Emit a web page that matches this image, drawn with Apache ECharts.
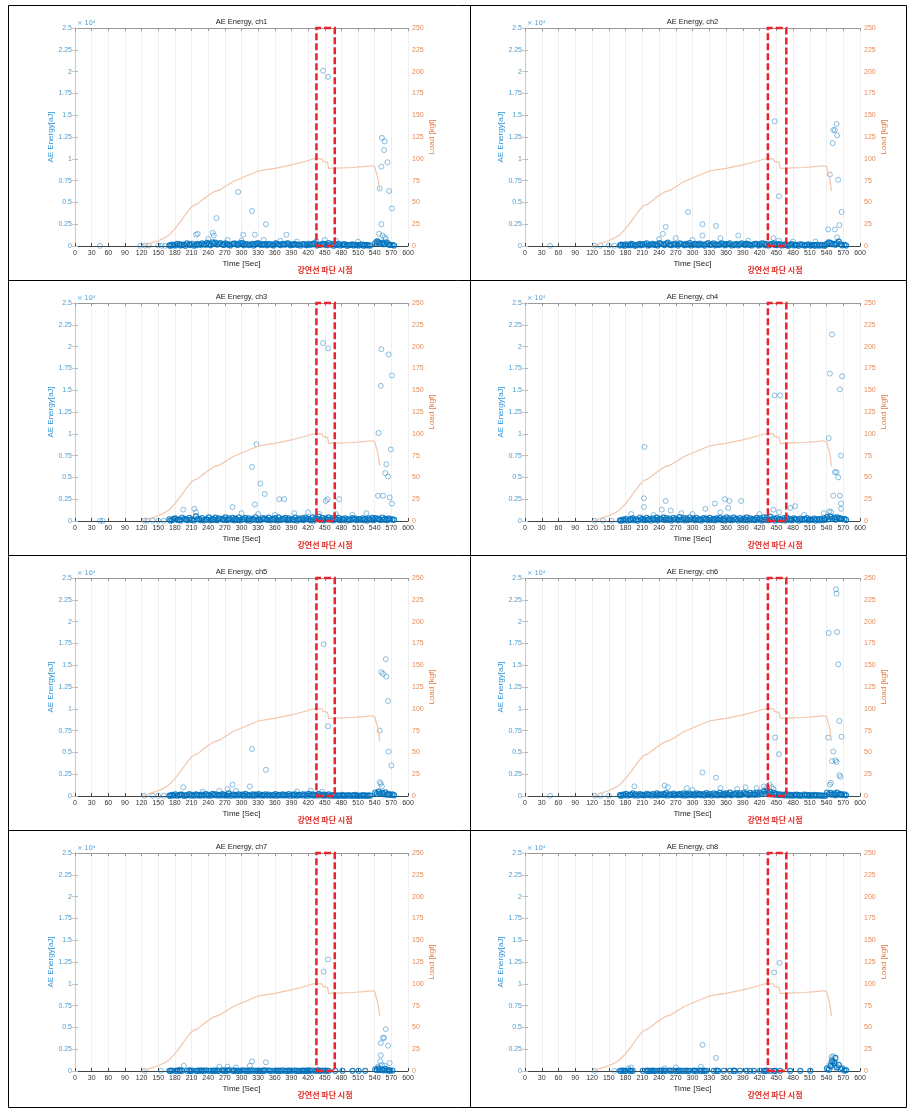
<!DOCTYPE html>
<html><head><meta charset="utf-8">
<script src="https://cdn.jsdelivr.net/npm/echarts@6/dist/echarts.min.js"></script>
<style>html,body{margin:0;padding:0;background:#fff}#c{width:919px;height:1116px}</style>
</head><body><div id="c"></div>
<script>
// ---------- DATA ----------
const channels = ['ch1','ch2','ch3','ch4','ch5','ch6','ch7','ch8'];
const energyTickLabels = ['0','0.25','0.5','0.75','1','1.25','1.5','1.75','2','2.25','2.5'];
const breakWindow = [435, 468]; // red dashed box (sec)

// load curve (shared by all channels)
const loadT = [120,125,135,150,160,170,180,190,200,210,215,220,230,240,250,260,270,285,300,315,330,345,360,375,390,405,420,430,440,445,447,450,455,457,460,480,500,520,535,540,543,546,549];
const loadV = [0,0.5,3,6,9,13,20,28,37,45,47,48,53,58,62,64,68,74,78,82,86,87.5,89,91,93,95.5,98,100,100,100,97,96,96,89,89,89.5,90,91,92,91,89,77,63];

// hit times of the dense near-zero band (two rows)
const bandT_A = [170,175,181,188,193,199,206,211,218,223, 229,236,241,248,253,259,266,271,277,284, 289,295,302,307,313,320,325,331,338,343, 349,356,361,367,374,379,385,392,397,403, 410,415,421,428,433,439,446,451,457,464, 469,475,482,487,493,500,505,511,518,523, 529,536,541,547,554,559,565,572];
const bandT_B = [172,178,184,190,196,202,208,214,220,226, 232,238,244,250,256,262,268,274,280,286, 292,298,304,310,316,322,328,334,340,346, 352,358,364,370,376,382,388,394,400,406, 412,418,424,430,436,442,448,454,460,466, 472,478,484,490,496,502,508,514,520,526, 532,538,544,550,556,562,568,575];

// band energies [aJ]
const ch1_A = [80,150,60,220,120,40,180,260,90,200, 310,150,240,420,380,260,180,300,140,230, 270,160,320,200,110,250,180,290,140,210, 260,130,300,190,240,160,280,120,210,170, 230,150,260,190,300,140,250,180,320,210, 160,240,120,200,90,180,130,60,150,100, 70,null,300,420,350,260,180,110];
const ch1_B = [30,100,250,70,160,300,110,50,240,130, 180,350,90,270,160,330,120,210,60,280, 140,330,90,230,170,60,300,150,220,100, 180,60,240,110,170,300,90,230,140,60, 200,90,150,280,60,130,210,100,170,40, 120,60,190,40,140,70,100,170,30,120, 60,null,500,280,200,380,120,60];
const ch2_A = [60,120,200,90,180,60,240,150,300,110, 250,180,340,200,280,150,260,190,310,170, 240,320,130,210,280,160,230,120,290,200, 150,260,180,310,120,240,170,210,280,140, 190,250,130,270,220,160,300,110,180,140, 90,160,60,120,200,80,140,50,110,170, 60,40,280,350,240,300,200,120];
const ch2_B = [150,40,110,260,60,170,90,230,60,200, 120,60,230,110,380,90,170,60,230,90, 150,70,260,90,160,50,320,190,80,140, 300,100,220,60,190,80,290,110,180,60, 260,70,310,100,60,250,120,220,70,200, 40,230,120,30,150,60,200,100,40,80, 130,80,420,200,150,500,80,60];
const ch3_A = [200,100,300,160,400,220,350,180,520,260, 330,200,410,260,380,300,250,420,300,360, 280,400,220,360,300,250,430,200,340,280, 380,240,320,410,260,350,300,230,400,270, 340,380,260,420,300,500,360,280,410,330, 300,360,250,310,200,340,280,230,300,260, 310,350,330,280,400,250,300,200];
const ch3_B = [60,250,130,70,220,90,140,60,200,110, 80,160,100,140,90,200,120,100,170,90, 120,80,190,100,70,160,110,90,200,130, 90,150,70,120,180,90,140,110,70,160, 110,200,90,60,250,130,80,190,150,100, 170,90,140,60,120,180,80,150,110,70, 160,100,200,120,150,90,180,130];
const ch4_A = [80,160,240,120,300,180,400,250,350,220, 300,380,250,420,320,280,370,260,450,330, 290,400,270,350,220,330,280,360,240,300, 350,270,420,300,380,250,330,280,410,310, 260,350,300,420,380,500,280,340,250,320, 380,260,310,200,280,230,320,180,270,210, 250,300,450,500,380,420,300,250];
const ch4_B = [30,90,60,180,100,50,150,90,120,60, 150,80,190,110,140,70,180,100,160,80, 110,170,90,140,70,190,100,130,80,160, 120,70,150,90,170,60,130,100,80,140, 100,160,70,130,90,180,60,140,110,80, 140,90,170,60,120,150,80,130,60,110, 100,140,200,250,160,300,220,120];
const ch5_A = [50,120,200,80,160,60,220,130,180,90, 150,210,120,250,180,140,220,100,300,170, 130,200,160,240,110,190,150,230,120,200, 170,110,210,140,190,120,230,150,180,130, 200,160,240,180,130,250,160,120,190,90, 100,70,130,60,110,80,120,50,90,70, 80,null,400,500,350,420,260,180];
const ch5_B = [20,70,40,150,30,100,60,40,90,50, 80,60,40,110,70,50,90,60,40,80, 60,100,40,80,60,40,90,70,50,80, 50,70,40,90,60,80,40,70,50,90, 60,40,80,50,70,90,40,60,30,50, 30,40,20,50,30,40,20,30,40,20, 40,null,250,300,200,150,120,80];
const ch6_A = [90,160,240,120,300,180,220,140,260,170, 230,300,180,250,320,200,280,160,240,300, 210,270,190,300,240,220,330,260,310,230, 350,280,300,380,260,330,300,360,280,350, 300,400,380,520,600,480,350,260,200,160, 180,140,120,160,100,150,120,90,140,110, 80,60,400,350,300,380,250,180];
const ch6_B = [40,90,60,150,80,50,110,70,120,60, 100,70,130,90,60,120,80,140,100,70, 90,120,70,150,100,80,130,60,110,90, 120,80,150,100,170,90,130,200,110,160, 140,180,220,250,300,200,150,110,90,60, 60,40,70,50,30,60,40,50,30,60, 40,30,200,150,100,160,120,80];
const ch7_A = [30,60,20,100,40,null,80,50,30,60, 40,80,30,50,60,20,70,40,90,50, 60,30,80,40,50,70,30,60,40,80, 50,30,60,40,70,30,50,40,60,30, 50,40,70,60,30,80,50,40,30,null, 20,null,30,null,null,20,null,30,null,20, null,null,200,300,150,250,100,60];
const ch7_B = [10,null,40,20,null,30,10,null,20,40, 20,null,30,10,40,null,20,30,null,10, 30,20,null,10,30,null,20,10,30,null, 20,null,30,10,null,20,30,null,10,20, 30,10,20,null,40,20,null,30,null,null, null,null,null,null,null,null,null,null,null,null, null,null,100,120,80,60,40,null];
const ch8_A = [30,50,20,40,30,null,null,20,40,30, 50,30,40,60,30,50,40,30,60,20, 40,30,50,20,40,60,30,null,20,40, null,30,null,20,40,null,30,null,20,30, 20,null,30,20,40,30,20,null,30,null, null,20,null,null,20,null,null,20,null,null, null,null,300,600,900,400,200,50];
const ch8_B = [10,20,null,10,null,null,null,null,10,20, 20,null,10,30,null,20,null,10,30,null, 10,null,20,null,10,30,null,null,null,10, null,null,null,null,10,null,null,null,null,null, null,null,null,10,null,null,10,null,null,null, null,null,null,null,null,null,null,null,null,null, null,null,150,1100,1500,700,300,100];

// isolated hits [time s, energy aJ]
const ch1_hits = [[45,20],[118,30],[126,40],[133,50],[150,60],[156,30],[162,20],[447,20100],[456,19400],[553,12400],[558,12000],[557,11000],[563,9600],[552,9100],[549,6600],[566,6300],[571,4300],[552,2500],[548,1400],[294,6200],[319,4000],[255,3200],[344,2500],[218,1300],[221,1400],[248,1500],[250,1200],[303,1300],[324,1300],[381,1300],[554,1200],[558,1000],[545,600],[560,800],[240,800],[275,700],[300,600],[340,700],[370,600],[400,500],[435,600],[450,700],[470,600],[510,500]];
const ch2_hits = [[45,20],[125,30],[135,40],[150,60],[160,30],[447,14300],[455,5700],[558,14000],[552,13300],[555,13300],[551,11800],[559,12700],[561,7600],[546,8200],[567,3900],[563,2400],[555,1900],[543,1900],[559,1000],[292,3900],[318,2500],[342,2300],[252,2200],[247,1400],[318,1200],[382,1200],[240,800],[270,900],[300,700],[350,900],[400,600],[445,900],[455,600],[480,500],[520,500]];
const ch3_hits = [[45,20],[50,10],[125,30],[130,40],[140,30],[150,40],[160,30],[447,20400],[456,19800],[552,19700],[565,19100],[571,16700],[551,15500],[547,10100],[569,8200],[561,6500],[559,5500],[564,5100],[546,2900],[555,2900],[567,2700],[571,2000],[327,8800],[319,6200],[334,4300],[342,3100],[324,1900],[368,2500],[377,2500],[452,2300],[455,2500],[476,2500],[215,1400],[195,1300],[284,1600],[218,1000],[300,900],[330,800],[360,700],[395,900],[420,1000],[440,800],[470,800],[500,700],[525,900]];
const ch4_hits = [[125,20],[140,30],[155,20],[214,8500],[213,2600],[213,1600],[447,14400],[457,14400],[550,21400],[546,16900],[568,16600],[564,15100],[544,9500],[566,7500],[558,5600],[555,5600],[561,5000],[552,2900],[564,2900],[566,2000],[566,1400],[252,2300],[245,1300],[261,1200],[340,2000],[358,2500],[366,2300],[364,1500],[387,2300],[475,1500],[484,1700],[323,1400],[190,800],[230,700],[280,900],[300,800],[350,1000],[420,800],[445,1300],[455,1000],[500,700],[535,900],[545,1100],[548,1000]];
const ch5_hits = [[125,20],[140,30],[150,20],[160,30],[448,17400],[456,8000],[560,15700],[552,14200],[555,14000],[561,13700],[564,10900],[549,7500],[565,5100],[570,3500],[549,1600],[551,1400],[553,1100],[319,5400],[344,3000],[195,1000],[284,1300],[315,1100],[275,800],[290,600],[260,600],[230,500],[400,500],[425,600],[445,500]];
const ch6_hits = [[45,20],[125,30],[135,20],[150,30],[557,23700],[558,23200],[544,18700],[559,18800],[561,15100],[563,8600],[567,6800],[448,6700],[455,4800],[543,6700],[552,5100],[550,4000],[558,3900],[556,4100],[563,2400],[565,2200],[548,1500],[546,1300],[318,2700],[342,2100],[196,1100],[250,1200],[256,1000],[290,900],[300,700],[350,900],[380,800],[395,1000],[415,900],[428,1100],[432,900],[438,1300],[442,1000],[445,800]];
const ch7_hits = [[125,10],[155,20],[448,11400],[456,12800],[560,4800],[555,3800],[557,3800],[551,3200],[564,2900],[551,1800],[550,1100],[567,900],[319,1100],[344,1000],[315,600],[196,600],[260,500],[275,500],[290,400],[553,700],[558,600],[546,500]];
const ch8_hits = [[125,10],[160,10],[446,11300],[456,12400],[318,3000],[342,1500],[315,500],[190,400],[185,300],[250,300],[270,400],[549,1600],[552,1700],[550,1300],[553,1100],[547,900],[555,1000],[551,700],[548,500],[554,400],[556,600]];

const bandA = [ch1_A,ch2_A,ch3_A,ch4_A,ch5_A,ch6_A,ch7_A,ch8_A];
const bandB = [ch1_B,ch2_B,ch3_B,ch4_B,ch5_B,ch6_B,ch7_B,ch8_B];
const hits  = [ch1_hits,ch2_hits,ch3_hits,ch4_hits,ch5_hits,ch6_hits,ch7_hits,ch8_hits];

// ---------- BUILD ----------
function zip(t, e){ const out=[]; const n=Math.min(t.length,e.length); for(let i=0;i<n;i++){ if(e[i]!=null) out.push([t[i],e[i]]);} return out; }
const loadData = loadT.map((t,i)=>[t,loadV[i]]);

const FONT = '"Liberation Sans", Arial, sans-serif';
const grids=[], xAxes=[], yAxes=[], series=[], graphics=[];
const colLeft=[75,525], colWidth=[333,335], rowTop=28, rowStep=275, plotH=218;
const blue='#0072BD';

channels.forEach((ch,i)=>{
  const col=i%2, row=Math.floor(i/2);
  const left=colLeft[col], top=rowTop+row*rowStep, w=colWidth[col];
  grids.push({left:left, top:top, width:w, height:plotH, containLabel:false});
  xAxes.push({type:'value', gridIndex:i, min:0, max:600, interval:30, position:'bottom',
    axisLine:{show:true,onZero:false,lineStyle:{color:'#444',width:1}},
    axisTick:{show:true,inside:true,length:3,lineStyle:{color:'#444'}},
    axisLabel:{fontSize:7,color:'#333',margin:4,fontFamily:FONT},
    splitLine:{show:true,lineStyle:{color:'#efefef',width:1}},
    name:'Time [Sec]', nameLocation:'middle', nameGap:14,
    nameTextStyle:{fontSize:8,color:'#222',fontFamily:FONT}});
  xAxes.push({type:'value', gridIndex:i, min:0, max:600, interval:30, position:'top',
    axisLine:{show:true,onZero:false,lineStyle:{color:'#999',width:1}},
    axisTick:{show:true,inside:true,length:3,lineStyle:{color:'#999'}},
    axisLabel:{show:false}, splitLine:{show:false}});
  yAxes.push({type:'value', gridIndex:i, min:0, max:25000, interval:2500, position:'left',
    axisLine:{show:true,lineStyle:{color:'#86c6ea',width:1}},
    axisTick:{show:true,inside:true,length:3,lineStyle:{color:'#86c6ea'}},
    axisLabel:{fontSize:7,color:'#4a9fd6',margin:3,fontFamily:FONT,
      formatter:v=>energyTickLabels[Math.round(v/2500)]},
    splitLine:{show:false},
    name:'AE Energy[aJ]', nameLocation:'middle', nameGap:15, nameRotate:90,
    nameTextStyle:{fontSize:8,color:'#2f95d8',fontFamily:FONT}});
  yAxes.push({type:'value', gridIndex:i, min:0, max:250, interval:25, position:'right',
    axisLine:{show:true,lineStyle:{color:'#f2bd98',width:1}},
    axisTick:{show:true,inside:true,length:3,lineStyle:{color:'#f2bd98'}},
    axisLabel:{fontSize:7,color:'#e38b57',margin:4,fontFamily:FONT},
    splitLine:{show:false},
    name:'Load [kgf]', nameLocation:'middle', nameGap:17, nameRotate:90,
    nameTextStyle:{fontSize:8,color:'#e27c45',fontFamily:FONT}});

  const xi=i*2, yl=i*2, yr=i*2+1;
  const circ={color:'rgba(0,0,0,0)', borderColor:blue, borderWidth:1.2, opacity:0.85};
  series.push({type:'scatter', xAxisIndex:xi, yAxisIndex:yl, data:zip(bandT_B,bandB[i]), symbol:'circle', symbolSize:5, itemStyle:circ, silent:true});
  series.push({type:'scatter', xAxisIndex:xi, yAxisIndex:yl, data:zip(bandT_A,bandA[i]), symbol:'circle', symbolSize:5, itemStyle:circ, silent:true});
  series.push({type:'scatter', xAxisIndex:xi, yAxisIndex:yl, data:hits[i], symbol:'circle', symbolSize:5,
    itemStyle:{color:'rgba(0,0,0,0)', borderColor:blue, borderWidth:1, opacity:0.45}, silent:true});
  series.push({type:'line', xAxisIndex:xi, yAxisIndex:yr, data:loadData, showSymbol:false, symbol:'none',
    lineStyle:{color:'#f1c6ab',width:1.2}, silent:true, z:3,
    markArea:{silent:true, z:5,
      itemStyle:{color:'rgba(0,0,0,0)', borderColor:'#e8242c', borderWidth:2.5, borderType:[7,3]},
      data:[[{xAxis:breakWindow[0], yAxis:0},{xAxis:breakWindow[1], yAxis:250}]]}});

  graphics.push({type:'text', x:left+w/2, y:top-6, style:{text:'AE Energy, '+ch, fill:'#222', font:'7.5px '+FONT, align:'center', verticalAlign:'middle', textAlign:'center', textVerticalAlign:'middle'}});
  graphics.push({type:'text', x:left+2, y:top-5, style:{text:'× 10⁴', fill:'#4a9fd6', font:'6.5px "DejaVu Sans", sans-serif', align:'left', verticalAlign:'middle', textAlign:'left', textVerticalAlign:'middle'}});
  const kx = col===0 ? 325 : 775;
  graphics.push({type:'text', x:kx, y:top+242, style:{text:'강연선 파단 시점', fill:'#e0302a', font:'bold 8px "Noto Sans CJK KR"', align:'center', verticalAlign:'middle', textAlign:'center', textVerticalAlign:'middle'}});
});

graphics.push({type:'rect', shape:{x:8.5,y:5.5,width:898,height:1102}, style:{fill:'none',stroke:'#000',lineWidth:1}, z:10});
graphics.push({type:'line', shape:{x1:470.5,y1:5,x2:470.5,y2:1108}, style:{stroke:'#000',lineWidth:1}, z:10});
[280,555,830].forEach(y=>graphics.push({type:'line', shape:{x1:8,y1:y+0.5,x2:907,y2:y+0.5}, style:{stroke:'#000',lineWidth:1}, z:10}));

const chart = echarts.init(document.getElementById('c'), null, {renderer:'canvas'});
chart.setOption({animation:false, backgroundColor:'#fff', grid:grids, xAxis:xAxes, yAxis:yAxes, series:series, graphic:graphics});
</script></body></html>
